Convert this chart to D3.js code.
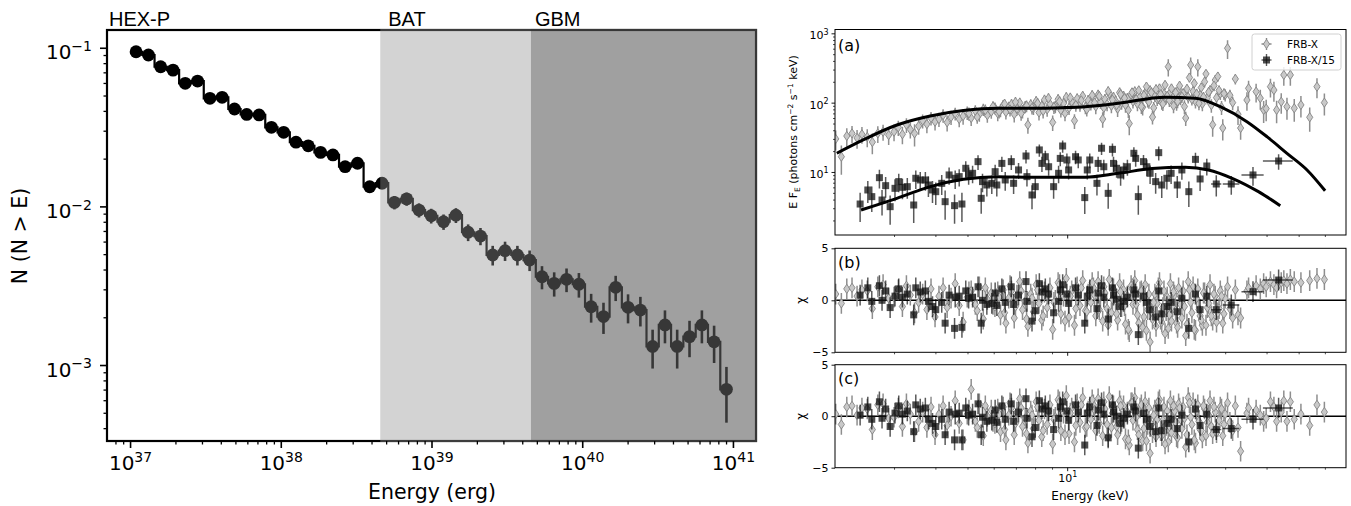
<!DOCTYPE html>
<html><head><meta charset="utf-8">
<script src="https://cdn.jsdelivr.net/npm/d3@7"></script>
<style>body{margin:0;background:#fff}</style>
</head><body>
<script>
// ---------------- LEFT PANEL DATA ----------------
const hexE = [1.096e37,1.324e37,1.596e37,1.928e37,2.323e37,2.805e37,3.388e37,4.083e37,4.932e37,5.943e37,7.178e37,8.670e37,
1.045e38,1.262e38,1.521e38,1.837e38,2.218e38,2.673e38,3.228e38,3.890e38,4.699e38,5.675e38,6.839e38,8.260e38,9.954e38,
1.202e39,1.452e39,1.750e39,2.113e39,2.547e39,3.076e39,3.715e39,4.477e39,5.408e39,6.516e39,7.870e39,9.506e39,
1.146e40,1.384e40,1.667e40,2.014e40,2.432e40,2.931e40,3.540e40,4.266e40,5.152e40,6.223e40,7.499e40,9.057e40];
const hexN = [0.0944,0.090,0.0759,0.0723,0.0597,0.0617,0.048,0.0487,0.0411,0.038,0.0377,0.0315,0.0293,0.0254,0.0241,0.0219,0.0211,0.0178,0.0187,0.0133,0.0140,
0.0106,0.01115,0.00948,0.00873,0.0080,0.0088,0.00687,0.0065,0.00494,0.00526,0.00494,0.00459,
0.0036,0.00327,0.00347,0.00323,0.00233,0.00202,0.00309,0.00231,0.00222,0.00131,0.00179,0.00131,0.00151,0.00179,0.0014,0.000703];
const hexErr = [0.00307,0.0030,0.00276,0.00269,0.00244,0.00248,0.00219,0.00221,0.00203,0.00195,0.00194,0.00177,0.00171,0.00159,0.00155,0.00148,0.00145,0.00133,0.00137,0.00115,0.00118,
0.00103,0.00106,0.00097,0.00093,0.00089,0.00094,0.00083,0.00081,0.0007,0.00073,0.0007,0.00068,
0.0006,0.00057,0.00059,0.00057,0.00048,0.00045,0.00056,0.00048,0.00047,0.00036,0.00042,0.00036,0.00039,0.00042,0.00037,0.00027];
const instrumentNames = ["HEX-P","BAT","GBM"];
const instrumentStart = [null, 4.57e38, 4.57e39];
const leftXTicks = [1e37,1e38,1e39,1e40,1e41];
const leftYTicks = [1e-3,1e-2,1e-1];

// ---------------- RIGHT PANEL DATA ----------------
const frbxE = [2.00,2.08,2.16,2.24,2.32,2.40,2.49,2.58,2.68,2.78,2.89,
3.00,3.09,3.18,3.27,3.36,3.46,3.56,3.66,3.77,3.88,3.99,4.10,4.22,4.34,4.46,4.59,4.72,4.85,4.99,5.13,5.28,5.43,5.58,5.74,5.90,
6.05,6.17,6.29,6.41,6.53,6.66,6.79,6.92,7.05,7.19,7.33,7.47,7.61,7.76,7.91,8.06,8.22,8.38,8.54,8.70,8.87,9.04,9.21,9.39,9.57,9.75,9.94,10.13,10.32,10.52,10.72,10.93,11.14,11.35,11.57,11.79,
12.0,12.2,12.4,12.6,12.8,13.0,13.2,13.4,13.6,13.8,14.0,14.2,14.4,14.6,14.8,15.0,15.2,15.4,15.6,15.8,16.0,16.3,16.6,16.9,17.2,17.5,17.8,18.1,18.4,18.7,19.0,19.3,19.6,19.9,20.2,20.5,20.8,21.1,21.4,21.7,22.0,22.4,22.8,23.2,23.6,24.0,24.4,24.8,25.2,25.6,26.0,26.5,27.0,27.5,28.0,28.5,29.0,29.5,30.0,30.5,31.0,31.6,32.2,32.8,33.4,
34.9,35.3,37.2,38.3,39.2,39.9,41.1,42.1,42.9,44.3,45.1,46.1,47.2,48.5,50.8,54.0,56.8,59.8,
5.05,5.35,5.66,5.97,6.23,6.47,6.72,6.98,7.26,7.54,7.83,8.14,8.46,8.78,9.12,9.48,9.85,10.22,10.62,11.03,11.46,11.9,12.1,12.5,12.9,13.3,13.7,14.1,14.5,14.9,15.3,15.7,16.15,16.45,16.75,17.05,17.35,17.65,17.95,18.25,18.55,18.85,19.15,19.45,19.75,20.05,20.35,20.65,20.95,21.25,21.55,21.85,22.2,22.6,23.0,23.4,23.8,24.2,24.6,25.0,25.4,25.8,26.25,26.75,27.25,27.75,28.25,28.75,29.25,29.75];
const frbxF = [30,16.6,33,36,31,35,32,27,36,38,34,
38,44,35,48,41,36,46,55,49,60,53,58,66,52,62,70,58,64,72,60,76,68,80,66,74,
84,70,78,92,73,86,95,68,82,100,76,88,48,94,84,105,72,90,110,80,96,52,88,112,78,98,120,84,104,55,115,92,125,86,108,96,
118,88,130,102,58,112,95,135,90,120,106,82,140,100,124,92,115,50,130,104,145,96,122,86,138,108,150,62,126,112,160,100,134,118,330,142,106,128,98,155,115,136,60,120,350,146,104,330,130,96,200,118,150,48,212,238,135,43,130,610,128,100,220,68,43,
109,161,144,116,78.5,82,170,152,78.5,103,251,87.5,251,83,92.7,61.5,170,100,
70,62,78,88,74,96,80,102,70,90,84,98,76,116,86,104,70,118,92,108,80,128,100,124,84,146,110,92,132,116,78,140,112,150,88,128,170,102,140,84,156,118,132,96,180,124,108,160,90,140,104,175,122,88,158,230,112,190,134,98,165,120,260,142,92,176,118,150,86,135];
const frbxErr = [0.32,0.45,0.3,0.28,0.3,0.27,0.29,0.33,0.27,0.26,0.28,
0.27,0.25,0.28,0.24,0.26,0.35,0.25,0.23,0.26,0.22,0.25,0.23,0.22,0.26,0.23,0.21,0.24,0.25,0.22,0.23,0.21,0.22,0.2,0.22,0.21,
0.2,0.23,0.21,0.19,0.22,0.2,0.19,0.24,0.21,0.18,0.22,0.2,0.26,0.19,0.21,0.18,0.23,0.2,0.18,0.22,0.19,0.25,0.2,0.18,0.22,0.19,0.18,0.21,0.19,0.24,0.18,0.2,0.17,0.21,0.19,0.2,
0.19,0.23,0.18,0.2,0.25,0.19,0.21,0.18,0.22,0.19,0.2,0.24,0.18,0.21,0.19,0.22,0.2,0.32,0.19,0.21,0.18,0.22,0.2,0.24,0.18,0.21,0.18,0.22,0.19,0.2,0.17,0.21,0.19,0.2,0.28,0.18,0.21,0.19,0.22,0.18,0.2,0.18,0.23,0.19,0.28,0.18,0.21,0.28,0.19,0.22,0.17,0.2,0.18,0.33,0.17,0.16,0.19,0.34,0.2,0.3,0.2,0.22,0.17,0.3,0.32,
0.3,0.28,0.3,0.32,0.35,0.34,0.3,0.32,0.36,0.33,0.3,0.35,0.3,0.36,0.34,0.38,0.32,0.35,
0.22,0.2,0.21,0.19,0.2,0.18,0.21,0.18,0.22,0.19,0.2,0.19,0.22,0.18,0.2,0.19,0.23,0.18,0.2,0.19,0.21,0.18,0.2,0.18,0.22,0.17,0.19,0.21,0.18,0.19,0.23,0.17,0.19,0.17,0.22,0.19,0.16,0.2,0.18,0.22,0.17,0.19,0.18,0.21,0.16,0.19,0.2,0.17,0.22,0.18,0.2,0.16,0.19,0.23,0.17,0.15,0.19,0.16,0.18,0.21,0.17,0.19,0.15,0.18,0.22,0.17,0.19,0.18,0.23,0.19];
const frbxChiB = [0.6,-0.3,1.1,1.2,0.4,1.0,0.9,-0.8,1.3,1.5,0.2,
0.3,1.0,-0.6,1.4,0.5,-1.2,-0.2,0.6,-0.9,1.1,-1.6,0.4,1.2,-0.7,0.2,1.6,-0.5,-2.1,0.3,0.9,-0.4,1.3,-1.8,0.1,0.7,
-0.6,0.8,-1.4,1.0,-2.2,0.2,0.9,-1.7,0.5,1.8,-0.9,-0.1,-2.5,0.6,-1.1,1.5,-0.3,-1.9,0.8,-0.7,1.2,-2.8,0.0,1.7,-1.3,0.4,2.1,-1.6,0.9,-2.4,1.3,-0.5,1.9,-1.0,0.6,-0.2,
1.2,-1.5,1.8,0.3,-2.0,0.7,-0.8,2.0,-1.2,1.1,0.0,-1.9,1.6,-0.6,1.0,-2.3,0.4,-3.0,1.4,-0.4,1.9,-1.4,0.8,-2.6,1.5,-0.9,-4.0,-1.8,0.6,-0.3,1.7,-2.1,0.9,-1.0,-2.7,1.6,-0.6,0.5,-2.2,1.2,-0.4,0.9,-3.4,1.8,-0.2,1.3,-2.9,1.1,-1.5,-2.4,0.7,-0.7,1.5,-1.9,0.4,-1.2,0.9,-2.2,0.2,1.3,-0.8,-1.7,1.0,-1.4,-1.7,
0.9,1.2,1.4,1.1,1.6,1.3,1.8,1.5,1.2,1.7,1.9,1.6,2.0,1.8,1.7,1.9,2.1,2.0,
0.8,-1.0,1.2,-0.4,0.3,-1.2,1.4,-0.6,0.9,-1.8,0.2,1.0,-1.5,0.6,-0.2,1.5,-2.0,0.4,-0.8,1.2,-1.1,1.7,0.5,-0.9,1.3,-2.4,0.1,-1.3,0.8,-0.5,-2.8,1.1,-0.4,-2.2,0.9,-1.6,-2.9,0.6,-1.1,-0.2,-2.5,1.2,-1.8,-0.7,-3.2,0.3,-1.4,-2.0,0.8,-1.0,-2.6,0.5,-1.7,-0.6,-2.3,1.0,-1.2,-2.8,0.2,-0.9,-1.9,0.7,-2.4,-0.3,-1.5,0.6,-2.1,-0.8,0.4,-1.3];
const frbxChiC = [0.2,-0.8,0.9,1.0,0.1,0.8,0.7,-1.3,1.1,1.2,-0.2,
-0.1,0.8,-1.0,1.2,0.2,-1.5,-0.5,0.4,-1.1,0.9,-1.8,0.2,1.0,-0.9,0.0,1.5,-0.7,-2.3,0.2,2.6,-0.5,1.2,-1.9,0.0,0.6,
-0.7,0.7,-1.5,0.9,-2.3,0.1,0.8,-1.8,0.4,1.7,-1.0,-0.2,-2.6,0.5,-1.2,1.4,-0.4,-2.0,0.7,-0.8,1.1,-2.7,-0.1,1.6,-1.4,0.3,2.0,-1.7,0.8,-2.5,1.2,-0.6,1.8,-1.1,0.5,-0.3,
1.1,-1.4,1.7,0.3,-1.9,0.7,-0.8,1.9,-1.1,1.0,0.0,-1.8,1.5,-0.5,1.0,-2.2,0.4,-2.8,1.3,-0.4,1.8,-1.3,0.8,-2.4,1.4,-0.8,-3.6,-1.6,0.6,-0.3,1.6,-1.9,0.9,-0.9,-2.5,1.5,-0.5,0.5,-2.0,1.2,-0.3,0.9,-3.0,1.8,-0.1,1.3,-2.6,1.1,-1.3,-2.1,0.7,-0.6,1.5,-1.7,0.4,-1.0,0.9,-1.9,0.2,1.3,-0.6,-1.4,1.0,-1.1,-3.4,
0.3,0.8,0.6,0.1,-0.5,-0.2,1.4,0.9,-0.5,0.4,1.5,-0.5,1.4,-0.3,0.2,-0.9,1.1,0.4,
0.6,-1.1,1.0,-0.5,0.2,-1.3,1.3,-0.7,0.8,-1.7,0.1,0.9,-1.4,0.5,-0.3,1.4,-1.8,0.3,-0.9,1.1,-1.0,1.6,0.6,-0.7,1.4,-2.0,0.3,-1.0,1.0,-0.2,-2.3,1.3,-0.1,-1.8,1.1,-1.2,-2.4,0.8,-0.8,0.1,-2.0,1.4,-1.4,-0.4,-2.7,0.5,-1.0,-1.6,1.0,-0.6,-2.1,0.8,-1.2,-0.2,-1.8,1.3,-0.8,-2.3,0.5,-0.5,-1.4,1.0,-1.9,0.1,-1.0,0.9,-1.6,-0.4,0.7,-0.8];

const frbx15E = [2.37,2.50,2.57,2.71,2.76,2.83,2.92,3.02,3.10,3.18,3.29,3.44,3.49,3.60,3.73,3.81,3.92,4.01,4.18,4.28,4.40,4.57,4.59,4.72,4.81,4.94,5.04,5.18,5.38,5.50,5.55,5.72,5.92,6.06,6.13,6.35,6.50,6.78,6.89,7.13,7.51,7.56,7.83,8.01,8.24,8.39,8.59,8.79,9.10,9.42,9.53,9.69,9.98,10.1,10.6,10.8,11.3,11.5,
11.7,12.3,12.4,12.7,12.9,13.3,13.7,13.8,14.1,14.5,14.8,15.2,15.9,16.1,16.4,17.0,17.4,17.8,18.5,18.9,19.3,20.0,20.6,21.5,22.2,23.3,24.4,25.2,26.4,28.2,31.3,36.4,43.5];
const frbx15F = [3.45,5.50,4.41,8.28,3.94,6.35,3.16,5.81,7.26,6.01,6.14,3.34,8.11,7.67,7.67,6.49,5.50,5.20,6.86,3.73,9.06,3.27,8.11,8.57,3.45,11.3,9.06,9.57,14.1,4.17,7.26,6.49,6.86,10.1,6.49,13.3,7.67,14.1,6.86,10.7,17.0,8.57,4.66,6.14,20.8,13.3,16.6,11.9,6.14,9.57,15.7,23.7,14.9,10.7,16.6,14.9,4.27,10.7,
14.9,6.86,13.3,22.0,11.9,4.92,21.2,13.3,11.3,9.06,10.7,11.9,18.6,15.7,4.41,14.1,11.9,9.57,7.26,19.0,6.49,8.11,9.57,6.49,10.7,5.20,15.2,7.93,12.2,6.71,6.71,9.06,14.4];
const frbx15Err = [0.45,0.35,0.4,0.3,0.4,0.33,0.45,0.35,0.3,0.33,0.33,0.45,0.3,0.3,0.3,0.33,0.35,0.36,0.32,0.45,0.28,0.45,0.3,0.28,0.45,0.26,0.28,0.28,0.24,0.4,0.3,0.32,0.3,0.26,0.32,0.25,0.3,0.24,0.3,0.26,0.22,0.28,0.38,0.32,0.2,0.25,0.22,0.26,0.33,0.28,0.23,0.2,0.24,0.27,0.22,0.24,0.42,0.27,
0.24,0.33,0.25,0.2,0.26,0.4,0.21,0.25,0.27,0.3,0.27,0.26,0.22,0.24,0.45,0.25,0.27,0.3,0.33,0.23,0.35,0.31,0.3,0.35,0.28,0.4,0.25,0.33,0.27,0.34,0.3,0.3,0.25];
const frbx15Xerr = [0,0,0,0,0,0,0,0,0,0,0,0,0,0,0,0,0,0,0,0,0,0,0,0,0,0,0,0,0,0,0,0,0,0,0,0,0,0,0,0,0,0,0,0,0,0,0,0,0,0,0,0,0,0,0,0,0,0,
0,0,0,0,0,0,0,0,0,0,0,0,0,0,0,0,0,0,0,0,0,0,0,0,0,0,0,0,0,1.0,1.8,2.8,4.5];
const frbx15ChiB = [0.5,1.2,-0.1,1.4,0.0,0.9,-0.7,0.4,1.1,0.3,0.6,-1.4,1.2,0.8,0.9,-0.1,-0.6,-0.9,-0.2,-2.2,0.5,-2.7,0.3,0.4,-2.6,0.9,0.2,0.3,1.3,-2.2,0.0,-0.4,-0.3,0.7,-0.5,1.1,-0.2,1.3,-0.4,0.5,1.8,-0.1,-2.0,-1.0,1.6,0.8,1.1,0.6,-1.2,-0.1,1.0,1.5,0.6,-0.3,1.2,0.5,-2.2,0.4,
1.0,-0.8,0.7,1.4,0.3,-1.8,1.2,0.5,0.1,-0.6,-0.1,0.3,1.0,0.6,-3.3,0.4,-0.2,-0.9,-1.6,0.9,-1.3,-0.6,-0.2,-1.1,0.2,-2.7,0.6,-0.9,0.4,-0.9,-0.45,0.83,1.95];
const frbx15ChiC = [0.1,0.9,-0.3,1.4,-0.2,0.7,-1.0,0.3,1.0,0.2,0.5,-1.5,1.1,0.7,0.8,-0.3,-0.7,-1.0,-0.3,-1.8,0.4,-2.3,0.2,0.3,-2.3,0.8,0.1,0.2,1.2,-1.8,-0.1,-0.5,-0.4,0.6,-0.6,1.0,-0.3,1.2,-0.5,0.4,1.7,-0.2,-2.0,-1.1,1.5,0.7,1.0,0.5,-1.3,-0.2,0.9,1.4,0.5,-0.4,1.1,0.4,-2.8,0.3,
0.9,-0.9,0.6,1.3,0.2,-2.1,1.1,0.4,0.0,-0.7,-0.2,0.2,0.9,0.5,-3.1,0.3,-0.3,-1.0,-1.5,0.8,-1.4,-0.7,-0.3,-1.2,0.1,-2.5,0.7,-0.9,0.2,-1.3,-1.2,-0.3,0.8];

const modelXE = [2.015,2.42,3.06,3.86,4.86,6.13,7.73,9.72,11.33,14.29,19.8,24.4,29.0,34.9,40.1,46.1,53.0,60.1];
const modelXF = [18.6,29,47.6,64.3,76.8,83,83,84.7,87.5,98,120,116,87.5,53.2,32.3,18.6,10.7,5.37];
const modelX15E = [2.385,3.06,3.86,4.86,6.13,7.73,11.33,14.29,18.03,22.7,26.7,31.5,37.8,44.0];
const modelX15F = [2.83,4.17,6.14,7.83,8.55,8.37,8.37,9.57,11.2,11.7,10.7,8.11,5.2,3.27];
const legendLabels = ["FRB-X","FRB-X/15"];
const panelLabels = ["(a)","(b)","(c)"];

// ---------------- DRAW ----------------
const svg = d3.select('body').append('svg').attr('width',1351).attr('height',506)
  .style('font-family','"DejaVu Sans", sans-serif');
const MINUS = '\u2212';

function supLabels(g, size, supSize, dyBase) {
  g.selectAll('.tick text').each(function(d){
    const e = Math.round(Math.log10(d));
    const t = d3.select(this).text(null).attr('font-size', size).attr('fill','#000').attr('font-family','"DejaVu Sans", sans-serif');
    if (dyBase !== undefined) t.attr('dy', dyBase);
    t.append('tspan').text('10');
    t.append('tspan').attr('font-size', supSize).attr('dy', -size*0.42).text((e<0?MINUS:'')+Math.abs(e));
  });
}
function minorLog(lo, hi) {
  const out = [];
  for (let k = Math.floor(Math.log10(lo)); k <= Math.ceil(Math.log10(hi)); k++)
    for (let m = 2; m <= 9; m++) { const v = m*Math.pow(10,k); if (v > lo && v < hi) out.push(v); }
  return out;
}
function styleAxis(g, w) { g.select('.domain').remove(); g.selectAll('.tick line').attr('stroke','#000').attr('stroke-width',w); }

// ===== LEFT =====
const xL = d3.scaleLog().domain([Math.pow(10,36.847), Math.pow(10,41.153)]).range([107,756]);
const yL = d3.scaleLog().domain([Math.pow(10,-3.479), Math.pow(10,-0.888)]).range([441,30]);
const L = svg.append('g');
L.append('rect').attr('x',107).attr('y',30).attr('width',649).attr('height',411).attr('fill','none').attr('stroke','#000').attr('stroke-width',2.2);
const li = d3.range(Math.min(hexE.length, hexN.length, hexErr.length));
L.append('path').attr('d', d3.line().x(i=>xL(hexE[i])).y(i=>yL(hexN[i])).curve(d3.curveStep)(li))
  .attr('fill','none').attr('stroke','#000').attr('stroke-width',2.2);
L.append('g').selectAll('line').data(li).join('line')
  .attr('x1',i=>xL(hexE[i])).attr('x2',i=>xL(hexE[i]))
  .attr('y1',i=>yL(hexN[i]-hexErr[i])).attr('y2',i=>yL(hexN[i]+hexErr[i]))
  .attr('stroke','#000').attr('stroke-width',2.6);
L.append('g').selectAll('circle').data(li).join('circle')
  .attr('cx',i=>xL(hexE[i])).attr('cy',i=>yL(hexN[i])).attr('r',6.4).attr('fill','#000');
const xEnd = xL.domain()[1];
L.append('rect').attr('x',xL(instrumentStart[1])).attr('y',28.9).attr('width',xL(instrumentStart[2])-xL(instrumentStart[1])).attr('height',413.2)
  .attr('fill','rgb(147,147,147)').attr('fill-opacity',0.41);
L.append('rect').attr('x',xL(instrumentStart[2])).attr('y',28.9).attr('width',xL(xEnd)+1.1-xL(instrumentStart[2])).attr('height',413.2)
  .attr('fill','rgb(93,93,93)').attr('fill-opacity',0.59);
const nameX = [xL.range()[0]+2, xL(instrumentStart[1])+8, xL(instrumentStart[2])+4];
instrumentNames.forEach((n,k)=>{
  L.append('text').attr('x',nameX[k]).attr('y',26).attr('font-family','"Liberation Sans", Arial, sans-serif').attr('font-size',20).text(n);
});
const gxL = L.append('g').attr('transform','translate(0,441)').call(d3.axisBottom(xL).tickValues(leftXTicks).tickSize(7).tickPadding(8));
styleAxis(gxL,1.6); supLabels(gxL, 20, 14);
const gxLm = L.append('g').attr('transform','translate(0,441)').call(d3.axisBottom(xL).tickValues(minorLog(xL.domain()[0],xL.domain()[1])).tickSize(3.5).tickFormat(''));
styleAxis(gxLm,1.3);
const gyL = L.append('g').attr('transform','translate(107,0)').call(d3.axisLeft(yL).tickValues(leftYTicks).tickSize(7).tickPadding(8));
styleAxis(gyL,1.6); supLabels(gyL, 20, 14, '0.55em');
const gyLm = L.append('g').attr('transform','translate(107,0)').call(d3.axisLeft(yL).tickValues(minorLog(yL.domain()[0],yL.domain()[1])).tickSize(3.5).tickFormat(''));
styleAxis(gyLm,1.3);
L.append('text').attr('x',432).attr('y',499).attr('text-anchor','middle').attr('font-size',20.5).text('Energy (erg)');
L.append('text').attr('transform','translate(27,236) rotate(-90)').attr('text-anchor','middle').attr('font-size',20.5).text('N (N > E)');

// ===== RIGHT =====
const xR = d3.scaleLog().domain([1.99,69.5]).range([835,1346]);
const yA = d3.scaleLog().domain([Math.pow(10,0.091), Math.pow(10,3.055)]).range([235,29.5]);
const yB = d3.scaleLinear().domain([-5,5]).range([352.3,248.3]);
const yC = d3.scaleLinear().domain([-5,5]).range([467.7,364.7]);
const panels = [{y:yA,top:29.5,bot:235,id:'ca'},{y:yB,top:248.3,bot:352.3,id:'cb'},{y:yC,top:364.7,bot:467.7,id:'cc'}];
const defs = svg.append('defs');
panels.forEach(p=>{
  defs.append('clipPath').attr('id',p.id).append('rect').attr('x',835).attr('y',p.top).attr('width',511).attr('height',p.bot-p.top);
});
const R = svg.append('g');
const diamond = 'M0,-4.6L3.1,0L0,4.6L-3.1,0Z';
const GREY = '#858585';
const gi = d3.range(Math.min(frbxE.length, frbxF.length, frbxErr.length, frbxChiB.length, frbxChiC.length));
const bi = d3.range(Math.min(frbx15E.length, frbx15F.length, frbx15Err.length, frbx15Xerr.length, frbx15ChiB.length, frbx15ChiC.length));

function drawGrey(g, yv, ylo, yhi) {
  g.append('g').selectAll('line').data(gi).join('line')
    .attr('x1',i=>xR(frbxE[i])).attr('x2',i=>xR(frbxE[i])).attr('y1',ylo).attr('y2',yhi)
    .attr('stroke','#8e8e8e').attr('stroke-width',1.5);
  g.append('g').selectAll('path').data(gi).join('path')
    .attr('d',diamond).attr('transform',i=>`translate(${xR(frbxE[i])},${yv(i)})`)
    .attr('fill','#c9c9c9').attr('stroke',GREY).attr('stroke-width',0.9);
}
function drawBlack(g, yv, ylo, yhi) {
  const gb = g.append('g');
  gb.selectAll('line.v').data(bi).join('line').attr('class','v')
    .attr('x1',i=>xR(frbx15E[i])).attr('x2',i=>xR(frbx15E[i])).attr('y1',ylo).attr('y2',yhi)
    .attr('stroke','#000').attr('stroke-opacity',0.65).attr('stroke-width',1.5);
  gb.selectAll('line.h').data(bi.filter(i=>frbx15Xerr[i]>0)).join('line').attr('class','h')
    .attr('x1',i=>xR(frbx15E[i]-frbx15Xerr[i])).attr('x2',i=>xR(frbx15E[i]+frbx15Xerr[i])).attr('y1',yv).attr('y2',yv)
    .attr('stroke','#000').attr('stroke-opacity',0.65).attr('stroke-width',1.5);
  gb.selectAll('rect').data(bi).join('rect')
    .attr('x',i=>xR(frbx15E[i])-3.5).attr('y',i=>yv(i)-3.5).attr('width',7).attr('height',7)
    .attr('fill','#111').attr('fill-opacity',0.75);
}
const PA = R.append('g').attr('clip-path','url(#ca)');
drawGrey(PA, i=>yA(frbxF[i]), i=>yA(frbxF[i]*(1-frbxErr[i])), i=>yA(frbxF[i]*(1+frbxErr[i])));
drawBlack(PA, i=>yA(frbx15F[i]), i=>yA(frbx15F[i]*(1-frbx15Err[i])), i=>yA(frbx15F[i]*(1+frbx15Err[i])));
const mi1 = d3.range(Math.min(modelXE.length, modelXF.length));
const mi2 = d3.range(Math.min(modelX15E.length, modelX15F.length));
PA.append('path').attr('d', d3.line().x(i=>xR(modelXE[i])).y(i=>yA(modelXF[i])).curve(d3.curveMonotoneX)(mi1))
  .attr('fill','none').attr('stroke','#000').attr('stroke-width',3);
PA.append('path').attr('d', d3.line().x(i=>xR(modelX15E[i])).y(i=>yA(modelX15F[i])).curve(d3.curveMonotoneX)(mi2))
  .attr('fill','none').attr('stroke','#000').attr('stroke-width',3);
[[yB,'cb',frbxChiB,frbx15ChiB],[yC,'cc',frbxChiC,frbx15ChiC]].forEach(([ys,id,cg,cb])=>{
  const P = R.append('g').attr('clip-path',`url(#${id})`);
  P.append('line').attr('x1',835).attr('x2',1346).attr('y1',ys(0)).attr('y2',ys(0)).attr('stroke','#000').attr('stroke-width',1.6);
  drawGrey(P, i=>ys(cg[i]), i=>ys(cg[i]-1), i=>ys(cg[i]+1));
  drawBlack(P, i=>ys(cb[i]), i=>ys(cb[i]-1), i=>ys(cb[i]+1));
});
const xMinorR = minorLog(xR.domain()[0]+0.5, xR.domain()[1]-0.3);
panels.forEach((p,k)=>{
  R.append('rect').attr('x',835).attr('y',p.top).attr('width',511).attr('height',p.bot-p.top).attr('fill','none').attr('stroke','#000').attr('stroke-width',1);
  const gx = R.append('g').attr('transform',`translate(0,${p.bot})`)
    .call(d3.axisBottom(xR).tickValues([10]).tickSize(3.5).tickPadding(3).tickFormat(k===2?null:''));
  styleAxis(gx,0.9);
  if (k===2) supLabels(gx, 11, 8);
  const gxm = R.append('g').attr('transform',`translate(0,${p.bot})`).call(d3.axisBottom(xR).tickValues(xMinorR).tickSize(2).tickFormat(''));
  styleAxis(gxm,0.7);
  R.append('text').attr('x',838).attr('y',[51,268,384][k]).attr('font-size',16).text(panelLabels[k]);
});
const gyA = R.append('g').attr('transform','translate(835,0)').call(d3.axisLeft(yA).tickValues([10,100,1000]).tickSize(3.5).tickPadding(3));
styleAxis(gyA,0.9); supLabels(gyA, 11, 8, '0.5em');
const gyAm = R.append('g').attr('transform','translate(835,0)').call(d3.axisLeft(yA).tickValues(minorLog(yA.domain()[0],yA.domain()[1])).tickSize(2).tickFormat(''));
styleAxis(gyAm,0.7);
[yB,yC].forEach(ys=>{
  const g = R.append('g').attr('transform','translate(835,0)').call(d3.axisLeft(ys).tickValues([-5,0,5]).tickSize(3.5).tickPadding(3).tickFormat(d=>d<0?MINUS+(-d):d));
  styleAxis(g,0.9);
  g.selectAll('.tick text').attr('font-size',11).attr('fill','#000').attr('font-family','"DejaVu Sans", sans-serif');
  R.append('text').attr('transform',`translate(801,${ys(0)}) rotate(-90)`).attr('text-anchor','middle').attr('dy','0.35em').attr('font-size',12).text('\u03c7');
});
const yl = R.append('text').attr('transform','translate(797,132) rotate(-90)').attr('text-anchor','middle').attr('font-size',11);
yl.append('tspan').text('E F');
yl.append('tspan').attr('font-size',7.5).attr('dy',2.5).text('E');
yl.append('tspan').attr('dy',-2.5).text(' (photons cm');
yl.append('tspan').attr('font-size',7.5).attr('dy',-4).text(MINUS+'2');
yl.append('tspan').attr('dy',4).text(' s');
yl.append('tspan').attr('font-size',7.5).attr('dy',-4).text(MINUS+'1');
yl.append('tspan').attr('dy',4).text(' keV)');
R.append('text').attr('x',1090).attr('y',500).attr('text-anchor','middle').attr('font-size',12).text('Energy (keV)');
const lg = R.append('g');
lg.append('rect').attr('x',1252).attr('y',34).attr('width',89).attr('height',36).attr('rx',2.5)
  .attr('fill','#fff').attr('fill-opacity',0.85).attr('stroke','#d0d0d0').attr('stroke-width',1);
legendLabels.forEach((lab,k)=>{
  const cy = 44 + k*16, cx = 1266.5;
  const col = k===0 ? GREY : '#111';
  lg.append('line').attr('x1',cx).attr('x2',cx).attr('y1',cy-6).attr('y2',cy+6).attr('stroke',col).attr('stroke-width',1.4).attr('stroke-opacity',k?0.7:1);
  lg.append('line').attr('x1',cx-5).attr('x2',cx+5).attr('y1',cy).attr('y2',cy).attr('stroke',col).attr('stroke-width',1.4).attr('stroke-opacity',k?0.7:1);
  if (k===0) lg.append('path').attr('d',diamond).attr('transform',`translate(${cx},${cy})`).attr('fill','#c9c9c9').attr('stroke',GREY).attr('stroke-width',0.9);
  else lg.append('rect').attr('x',cx-3.5).attr('y',cy-3.5).attr('width',7).attr('height',7).attr('fill','#111').attr('fill-opacity',0.75);
  lg.append('text').attr('x',1287).attr('y',cy).attr('dy','0.35em').attr('font-size',10.5).text(lab);
});
</script>
</body></html>
